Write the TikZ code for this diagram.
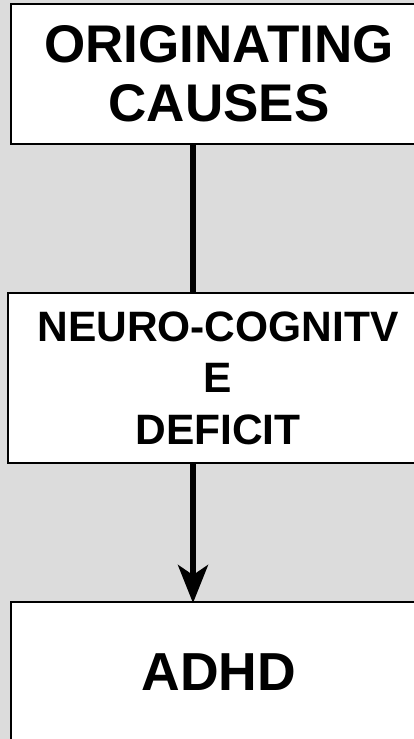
\documentclass[tikz,border=0pt]{standalone}
\usepackage{fontspec}
\setmainfont{Liberation Sans}
\usetikzlibrary{arrows.meta}
\definecolor{panel}{HTML}{DCDCDC}
\begin{document}
\begin{tikzpicture}[x=1pt,y=-1pt,
  stagebox/.style={draw=black, line width=2pt, fill=white, rectangle,
    inner sep=0pt, align=center, anchor=north west, font=\bfseries},
  link/.style={line width=5.5pt, black}]
  \useasboundingbox (0,0) rectangle (414,739);
  \clip (0,0) rectangle (414,739);
  \fill[panel] (0,0) rectangle (414,739);
  % three stages of the causal chain
  \node[stagebox, minimum width=416pt, minimum height=140pt,
        font=\bfseries\fontsize{53}{59.5}\selectfont] (origin) at (10,3)
    {ORIGINATING\\CAUSES};
  \node[stagebox, minimum width=420pt, minimum height=170pt,
        font=\bfseries\fontsize{42.5}{51.5}\selectfont] (deficit) at (7,292)
    {NEURO-COGNITV\\E\\DEFICIT};
  \node[stagebox, minimum width=416pt, minimum height=141pt,
        font=\bfseries\fontsize{53.5}{60}\selectfont] (adhd) at (10,601)
    {ADHD};
  % connectors
  \coordinate (o) at (193,0);
  \draw[link] (origin.south -| o) -- (deficit.north -| o);
  \draw[link, -{Stealth[length=38pt, width=30pt, inset=10pt]}]
    (deficit.south -| o) -- ([yshift=-2pt]adhd.north -| o);
\end{tikzpicture}
\end{document}
